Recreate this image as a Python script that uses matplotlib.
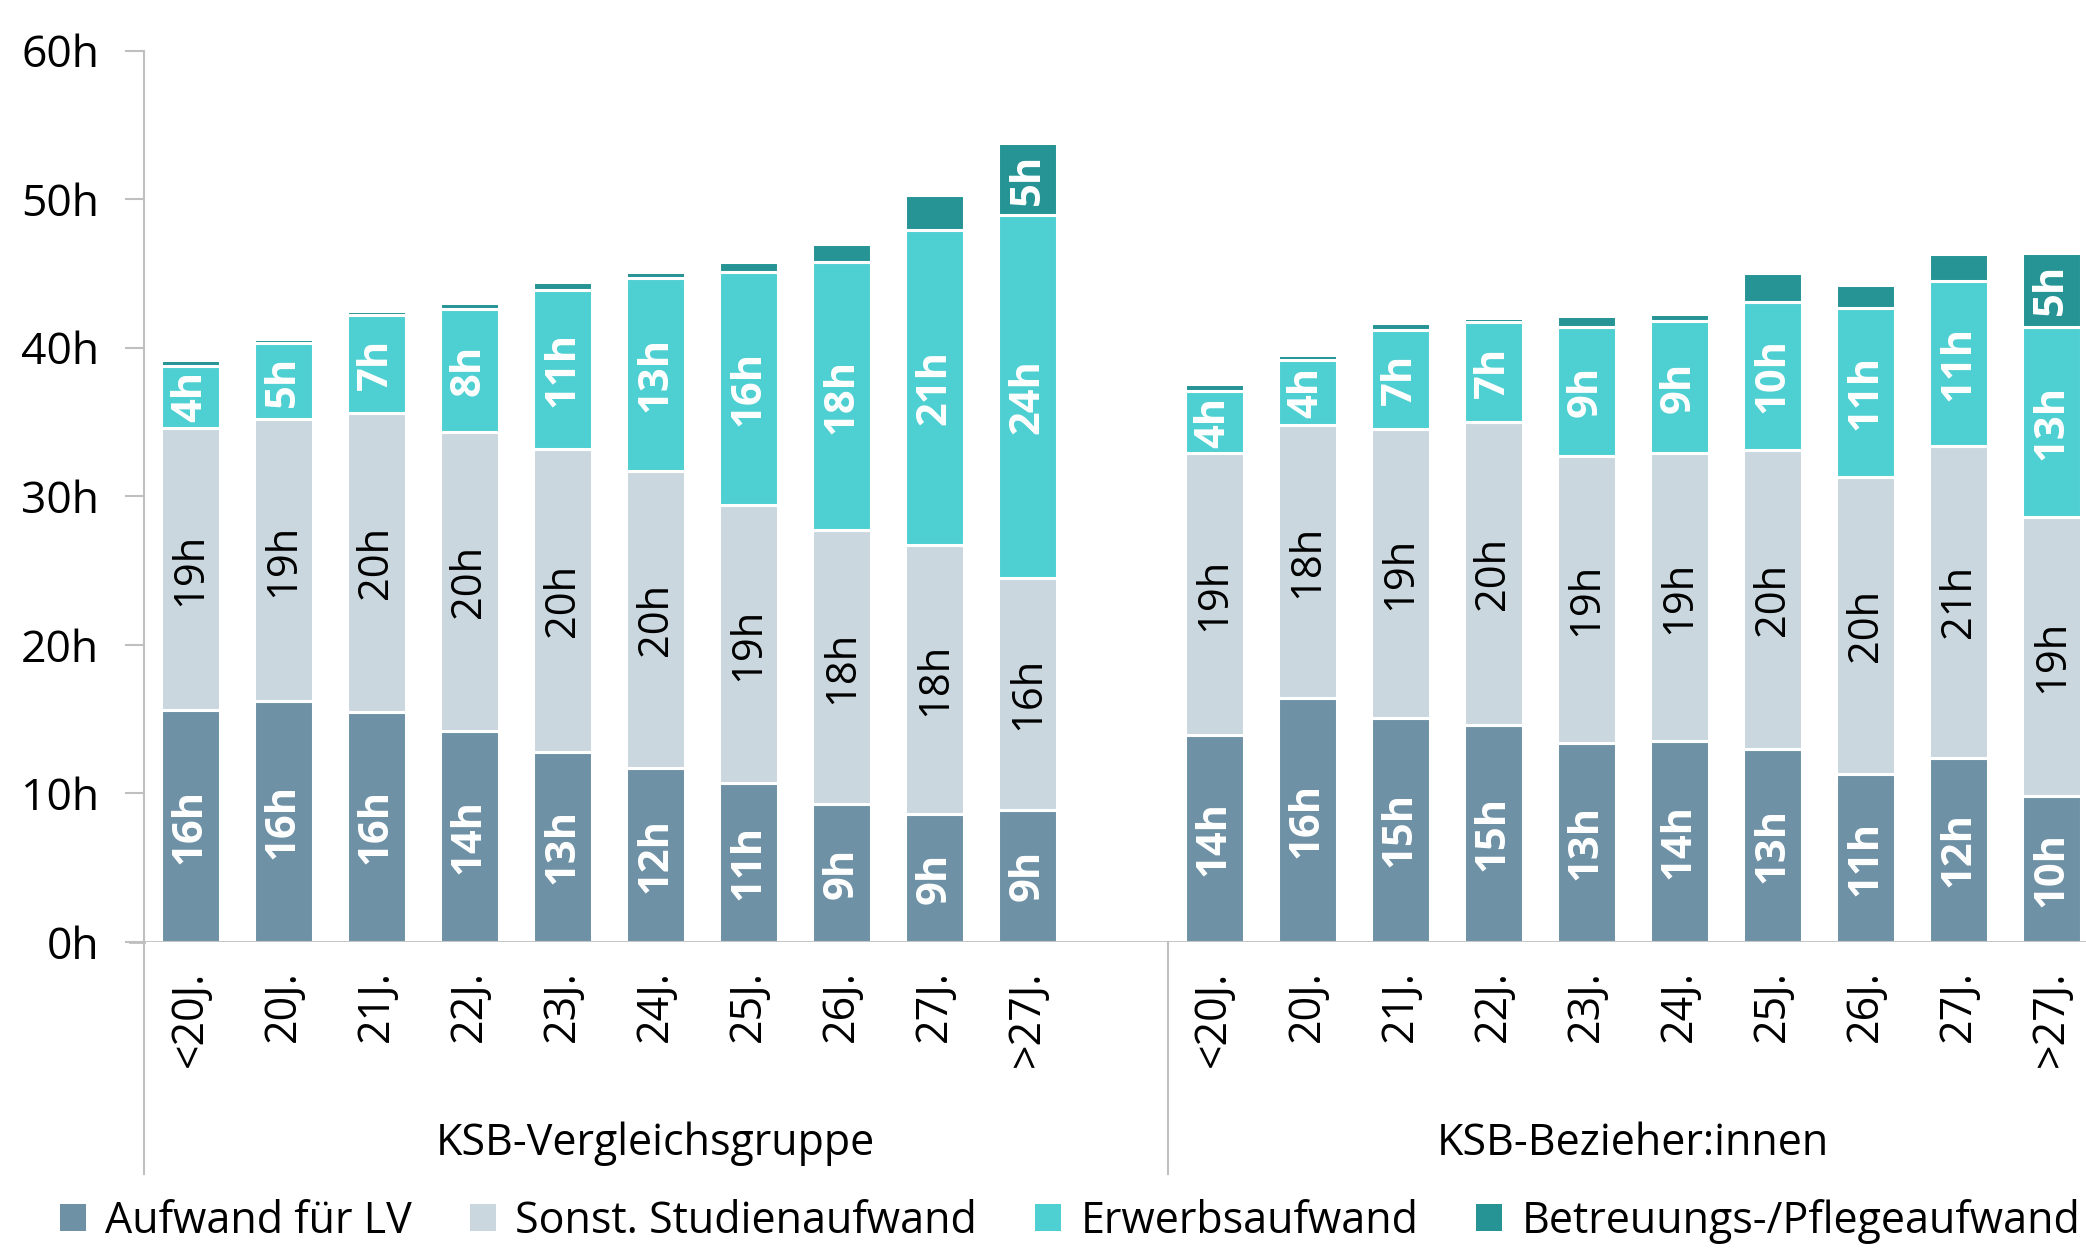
import matplotlib
matplotlib.use("Agg")
import matplotlib.pyplot as plt
from matplotlib.patches import Patch
from matplotlib.lines import Line2D
import numpy as np

plt.rcParams['font.family'] = ['Open Sans', 'DejaVu Sans']

# age groups (same for both panels)
ages = ['<20J.', '20J.', '21J.', '22J.', '23J.', '24J.', '25J.', '26J.', '27J.', '>27J.']
groups = ['KSB-Vergleichsgruppe', 'KSB-Bezieher:innen']
series = ['Aufwand für LV', 'Sonst. Studienaufwand', 'Erwerbsaufwand', 'Betreuungs-/Pflegeaufwand']

# hours per week, comparison group
vg_lv = [15.6, 16.2, 15.5, 14.2, 12.8, 11.7, 10.7, 9.3, 8.6, 8.9]
vg_sonst = [19.0, 19.0, 20.1, 20.1, 20.4, 20.0, 18.7, 18.4, 18.1, 15.6]
vg_erwerb = [4.2, 5.1, 6.6, 8.3, 10.7, 13.0, 15.7, 18.1, 21.2, 24.4]
vg_betr = [0.35, 0.3, 0.3, 0.4, 0.5, 0.4, 0.7, 1.2, 2.4, 4.9]

# hours per week, KSB recipients
bz_lv = [13.9, 16.4, 15.1, 14.6, 13.4, 13.5, 13.0, 11.3, 12.4, 9.8]
bz_sonst = [19.0, 18.4, 19.4, 20.4, 19.3, 19.4, 20.1, 20.0, 21.0, 18.8]
bz_erwerb = [4.2, 4.4, 6.7, 6.7, 8.7, 8.9, 10.0, 11.4, 11.1, 12.8]
bz_betr = [0.45, 0.3, 0.45, 0.3, 0.7, 0.45, 1.9, 1.5, 1.8, 5.0]

colors = ['#6E91A6', '#CAD7DF', '#4ECFD1', '#269495']
label_colors = ['white', 'black', 'white', 'white']
label_weights = ['bold', 'normal', 'bold', 'bold']

fig = plt.figure(figsize=(20.86, 12.48), dpi=100)
ax = fig.add_axes([0.0689, 0.2452, 0.9370, 0.7143])

# left block uses slots 0..9 (slot 10 empty), right block 11..20
x_left = np.arange(10)
x_right = np.arange(11, 21)
width = 0.635


def fmt(v):
    return '%dh' % int(v + 0.5)


def stack(xs, parts):
    bottom = np.zeros(len(xs))
    for k, vals in enumerate(parts):
        vals = np.array(vals)
        ax.bar(xs, vals, width, bottom=bottom, color=colors[k],
               edgecolor='white', linewidth=2.2, zorder=2)
        for x, b, v in zip(xs, bottom, vals):
            if v >= 3:
                ax.text(x, b + v / 2, fmt(v), rotation=90, ha='center', va='center',
                        fontsize=30, color=label_colors[k], fontweight=label_weights[k],
                        zorder=3)
        bottom = bottom + vals


stack(x_left, [vg_lv, vg_sonst, vg_erwerb, vg_betr])
stack(x_right, [bz_lv, bz_sonst, bz_erwerb, bz_betr])

ax.set_xlim(-0.5, 20.5)
ax.set_ylim(0, 60)
ax.set_yticks(range(0, 61, 10))
ax.set_yticklabels(['%dh' % v for v in range(0, 61, 10)], fontsize=32)
ax.set_xticks([])

for s in ['top', 'right', 'bottom']:
    ax.spines[s].set_visible(False)
ax.spines['left'].set_color('#BFBFBF')
ax.spines['left'].set_linewidth(1.5)
ax.tick_params(axis='y', length=14, width=1.5, color='#BFBFBF', pad=18)

# baseline, including the tick stub to the left
ax.axhline(0, xmin=0, xmax=1, color='#BFBFBF', linewidth=2, zorder=4)
ax.add_line(Line2D([-0.5 - 0.15, -0.5], [0, 0], color='#BFBFBF', linewidth=2,
                   clip_on=False))

# category labels below the axis
for xs in (x_left, x_right):
    for x, lab in zip(xs, ages):
        ax.text(x, -1.9, lab, rotation=90, ha='center', va='top', fontsize=31)

# group labels and separators
ax.text(5.0, -13.6, groups[0], ha='center', va='center', fontsize=31)
ax.text(15.5, -13.6, groups[1], ha='center', va='center', fontsize=31)
for xsep in (-0.5, 10.5):
    ax.add_line(Line2D([xsep, xsep], [0, -15.6], color='#BFBFBF', linewidth=1.5,
                       clip_on=False))

handles = [Patch(facecolor=c, edgecolor='none') for c in colors]
fig.legend(handles, series, loc='center', bbox_to_anchor=(0.513, 0.0215), ncol=4,
           frameon=False, fontsize=31, handlelength=0.6, handleheight=0.6,
           handletextpad=0.45, columnspacing=1.35)

fig.savefig('out.png', dpi=100)
